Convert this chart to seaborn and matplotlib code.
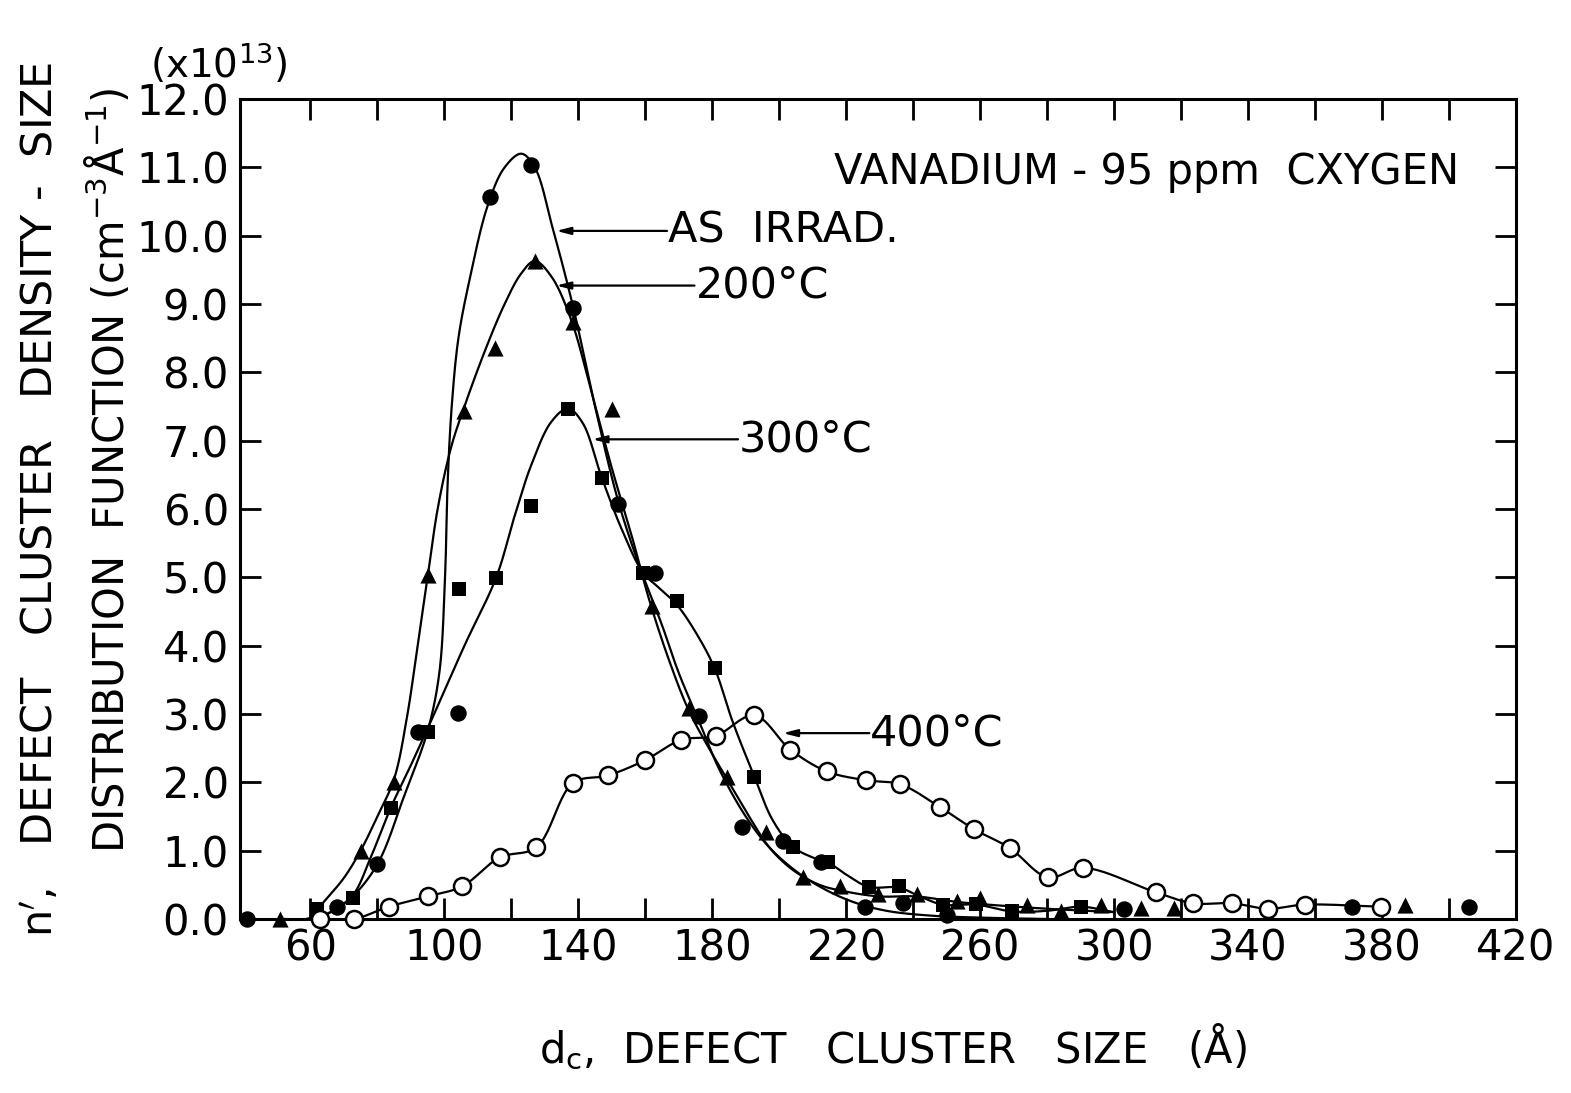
import numpy as np
import pandas as pd
import matplotlib
matplotlib.use("Agg")
import matplotlib.pyplot as plt
import seaborn as sns

# ---- measured points: defect cluster size d_c (Å) vs n' (x1e13 cm^-3 Å^-1) ----
as_irrad_x = [41, 68, 80, 92, 104, 113.5, 126, 138.5, 152, 163, 176, 189, 201, 212.5,
              225.5, 237, 250, 303, 371, 406]
as_irrad_y = [0.0, 0.18, 0.80, 2.74, 3.02, 10.57, 11.04, 8.94, 6.08, 5.07, 2.97, 1.35,
              1.14, 0.83, 0.18, 0.23, 0.06, 0.15, 0.18, 0.18]

t200_x = [51, 75, 85, 95, 106, 115, 127, 138.5, 150, 162, 173, 184.5, 196, 207, 218,
          229.5, 241, 253, 260, 274, 284, 296, 308, 318, 387]
t200_y = [0.0, 0.99, 2.01, 5.04, 7.43, 8.35, 9.63, 8.73, 7.47, 4.58, 3.09, 2.08, 1.28,
          0.62, 0.48, 0.36, 0.36, 0.26, 0.30, 0.21, 0.11, 0.21, 0.16, 0.16, 0.21]

t300_x = [62, 72.7, 84.2, 95, 104.4, 115.5, 125.8, 136.9, 147, 159.3, 169.4, 180.7,
          192.6, 204, 214.5, 226.7, 235.7, 248.8, 258.8, 269.6, 290]
t300_y = [0.14, 0.31, 1.63, 2.74, 4.83, 4.99, 6.05, 7.47, 6.46, 5.07, 4.66, 3.67, 2.08,
          1.06, 0.83, 0.47, 0.48, 0.21, 0.22, 0.11, 0.18]

t400_x = [63, 73, 83.4, 95, 105.4, 116.5, 127.5, 138.4, 148.8, 159.8, 170.7, 181, 192.6,
          203.3, 214.2, 226, 236.2, 247.9, 258.3, 268.8, 280.2, 290.8, 312.5, 323.5,
          335.2, 345.9, 356.9, 379.7]
t400_y = [0.0, 0.0, 0.18, 0.33, 0.48, 0.90, 1.05, 1.99, 2.10, 2.32, 2.62, 2.68, 2.98,
          2.48, 2.16, 2.03, 1.97, 1.64, 1.31, 1.04, 0.61, 0.75, 0.39, 0.23, 0.23, 0.15,
          0.21, 0.18]

# ---- hand-fitted distribution curves (knots along each drawn curve) ----
fit_as_x = [41, 60, 66, 72, 80, 88, 95, 98.5, 100.2, 101.0, 102.2, 104.2, 107.5, 113,
            118, 123, 127, 132.4, 138.5, 145, 152, 158, 165, 170, 176, 182, 190, 197,
            205, 213, 222, 232, 245, 260, 280]
fit_as_y = [0.0, 0.0, 0.1, 0.3, 0.8, 1.8, 2.75, 3.6, 5.0, 6.4, 7.5, 8.5, 9.35, 10.45,
            11.0, 11.2, 11.0, 10.1, 8.95, 7.5, 6.1, 5.2, 4.3, 3.6, 2.9, 2.2, 1.5, 1.05,
            0.7, 0.45, 0.25, 0.12, 0.05, 0.02, 0.0]

fit_200_x = [51, 60, 64, 70, 75, 80, 85, 89, 92, 95, 98, 102, 106, 112, 118, 123, 127,
             132, 138, 144, 150, 156, 161, 167, 173, 179, 185, 191, 197, 204, 212, 220,
             230, 241, 253, 265, 280, 300]
fit_200_y = [0.0, 0.02, 0.25, 0.6, 1.0, 1.5, 2.05, 3.0, 4.0, 5.0, 6.0, 6.9, 7.5, 8.3,
             9.0, 9.45, 9.63, 9.4, 8.75, 7.7, 6.6, 5.6, 4.7, 3.8, 3.05, 2.5, 2.0, 1.5,
             1.05, 0.72, 0.5, 0.4, 0.33, 0.33, 0.25, 0.2, 0.15, 0.1]

fit_300_x = [62, 66, 72.7, 78, 84.2, 90, 96.5, 106, 115.5, 121, 126, 132, 136.9,
             141.3, 147, 153, 159.3, 164, 169.4, 175, 180.7, 186, 192.6, 198, 204, 210,
             214.5, 220, 226.7, 235.7, 242, 248.8, 258.8, 269.6, 280, 290, 300]
fit_300_y = [0.0, 0.1, 0.35, 0.9, 1.65, 2.25, 2.95, 4.0, 5.0, 5.9, 6.65, 7.28, 7.47,
             7.26, 6.46, 5.7, 5.07, 4.85, 4.6, 4.2, 3.67, 2.9, 2.08, 1.45, 1.06, 0.9,
             0.83, 0.65, 0.47, 0.46, 0.33, 0.21, 0.21, 0.11, 0.12, 0.18, 0.1]

labels = ["AS  IRRAD.", "200\u00b0C", "300\u00b0C", "400\u00b0C"]
label_tips = [(133.4, 10.07), (133.4, 9.27), (144.2, 7.02), (201.1, 2.72)]
label_text_pos = [(166.8, 10.07), (175.0, 9.27), (188.0, 7.02), (227.2, 2.72)]


def smooth_curve(xs, ys, n=24, yscale=20.0):
    """Centripetal Catmull-Rom curve through the given knots."""
    P = np.column_stack([np.asarray(xs, float), np.asarray(ys, float) * yscale])
    P = np.vstack([2 * P[0] - P[1], P, 2 * P[-1] - P[-2]])
    pieces = []
    last = len(P) - 3
    for i in range(1, len(P) - 2):
        p0, p1, p2, p3 = P[i - 1], P[i], P[i + 1], P[i + 2]
        t0 = 0.0
        t1 = t0 + np.linalg.norm(p1 - p0) ** 0.5
        t2 = t1 + np.linalg.norm(p2 - p1) ** 0.5
        t3 = t2 + np.linalg.norm(p3 - p2) ** 0.5
        t = np.linspace(t1, t2, n, endpoint=(i == last))[:, None]
        a1 = (t1 - t) / (t1 - t0) * p0 + (t - t0) / (t1 - t0) * p1
        a2 = (t2 - t) / (t2 - t1) * p1 + (t - t1) / (t2 - t1) * p2
        a3 = (t3 - t) / (t3 - t2) * p2 + (t - t2) / (t3 - t2) * p3
        b1 = (t2 - t) / (t2 - t0) * a1 + (t - t0) / (t2 - t0) * a2
        b2 = (t3 - t) / (t3 - t1) * a2 + (t - t1) / (t3 - t1) * a3
        pieces.append((t2 - t) / (t2 - t1) * b1 + (t - t1) / (t2 - t1) * b2)
    C = np.vstack(pieces)
    return C[:, 0], C[:, 1] / yscale


sns.set_theme(style="ticks")
plt.rcParams["font.family"] = ["DejaVu Sans"]
plt.rcParams["mathtext.fontset"] = "dejavusans"
plt.rcParams["text.color"] = "black"
plt.rcParams["axes.labelcolor"] = "black"
plt.rcParams["xtick.color"] = "black"
plt.rcParams["ytick.color"] = "black"

fig = plt.figure(figsize=(15.71, 10.93), dpi=100)
ax = fig.add_axes([0.1528, 0.1592, 0.8122, 0.7502])

LW = 1.6
curves = [(fit_as_x, fit_as_y), (fit_200_x, fit_200_y), (fit_300_x, fit_300_y),
          (t400_x, t400_y)]
for cx, cy in curves:
    sx, sy = smooth_curve(cx, cy)
    df = pd.DataFrame({"x": sx, "y": sy})
    sns.lineplot(data=df, x="x", y="y", sort=False, estimator=None, color="black",
                 lw=LW, ax=ax, zorder=2)

sns.scatterplot(x=as_irrad_x, y=as_irrad_y, marker="o", s=140, color="black",
                edgecolor="black", linewidth=0, ax=ax, zorder=4, clip_on=False)
sns.scatterplot(x=t200_x, y=t200_y, marker="^", s=135, color="black",
                edgecolor="black", linewidth=0, ax=ax, zorder=4, clip_on=False)
sns.scatterplot(x=t300_x, y=t300_y, marker="s", s=105, color="black",
                edgecolor="black", linewidth=0, ax=ax, zorder=4, clip_on=False)
sns.scatterplot(x=t400_x, y=t400_y, marker="o", s=150, color="white",
                edgecolor="black", linewidth=1.8, ax=ax, zorder=5, clip_on=False)

# curve labels with leader arrows
for lab, tip, pos in zip(labels, label_tips, label_text_pos):
    ax.annotate("", xy=tip, xytext=(pos[0] - 0.3, pos[1]),
                arrowprops=dict(arrowstyle="-|>,head_length=0.7,head_width=0.18",
                                color="black", lw=1.6, shrinkA=0, shrinkB=0))
    ax.text(pos[0], pos[1], lab, fontsize=31, ha="left", va="center", color="black")

ax.text(216.5, 10.93, "VANADIUM - 95 ppm  CXYGEN", fontsize=30, ha="left",
        va="center", color="black")

ax.set_xlim(39, 420)
ax.set_ylim(0, 12)
ax.set_xticks(np.arange(60, 421, 40))
ax.set_xticks(np.arange(80, 420, 40), minor=True)
ax.set_yticks(np.arange(0, 12.01, 1.0))
ax.set_xticklabels([f"{v:d}" for v in range(60, 421, 40)])
ax.set_yticklabels([f"{v:.1f}" for v in np.arange(0, 12.01, 1.0)])
ax.tick_params(which="both", direction="in", top=True, right=True, length=15,
               width=2.0, color="black", labelsize=30, labelcolor="black")
ax.tick_params(axis="y", pad=8)
ax.tick_params(axis="x", pad=6)
for sp in ax.spines.values():
    sp.set_linewidth(2.2)
    sp.set_color("black")
ax.set_xlabel("")
ax.set_ylabel("")

fig.text(0.0955, 0.9286, "(x10$^{13}$)", fontsize=28, ha="left", va="baseline",
         color="black")
fig.text(0.026, 0.143, "n$^{\\prime}$,   DEFECT   CLUSTER   DENSITY -  SIZE",
         fontsize=31, rotation=90, ha="center", va="bottom", color="black")
fig.text(0.069, 0.22, "DISTRIBUTION  FUNCTION (cm$^{-3}$\u00c5$^{-1}$)", fontsize=30,
         rotation=90, ha="center", va="bottom", color="black")
fig.text(0.5684, 0.0274, "d$_{\\rm c}$,  DEFECT   CLUSTER   SIZE   (\u00c5)", fontsize=30,
         ha="center", va="baseline", color="black")

fig.savefig("out.png", dpi=100, facecolor="white")
